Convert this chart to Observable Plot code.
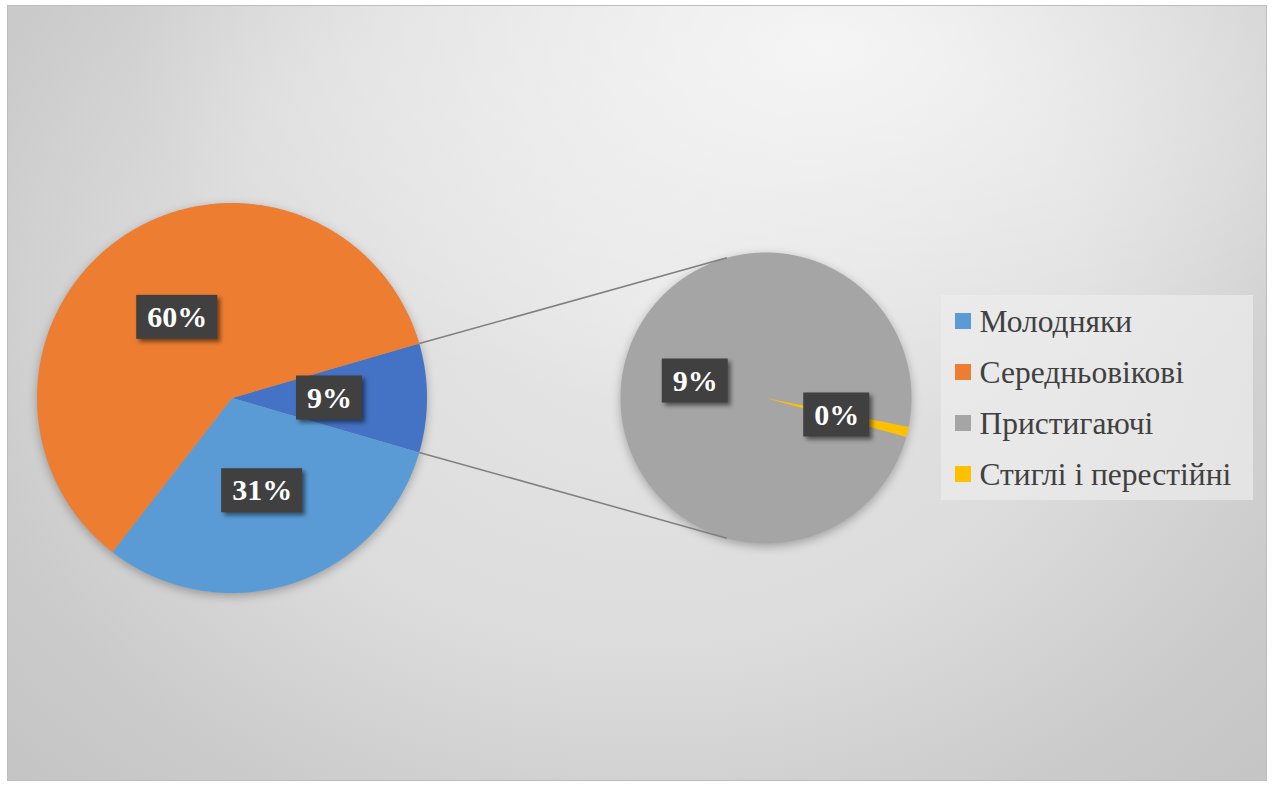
<!DOCTYPE html>
<html>
<head>
<meta charset="utf-8">
<script src="https://cdn.jsdelivr.net/npm/d3@7"></script>
<script src="https://cdn.jsdelivr.net/npm/@observablehq/plot@0.6"></script>
<style>
  html, body { margin: 0; padding: 0; background: #ffffff; }
  #wrap { position: relative; width: 1272px; height: 785px; }
  #bgfill {
    position: absolute; left: 7px; top: 5px; width: 1259px; height: 775px;
    background:
      radial-gradient(ellipse 700px 380px at 820px 40px, rgba(255,255,255,0.7) 0%, rgba(255,255,255,0) 100%),
      radial-gradient(ellipse 880px 700px at 640px 300px, #e6e6e6 0%, #dcdcdc 50%, #cbcbcb 80%, #c4c4c4 100%);
  }
  #chart { position: absolute; left: 0; top: 0; }
  #chart svg { display: block; background: transparent !important; }
  #warm { position: absolute; left: 2px; top: 781px; font: 3px "Liberation Serif", serif; color: transparent; white-space: nowrap; }
  #warm b { font-weight: bold; }
  #warm i { font-style: normal; font-family: monospace; }
</style>
</head>
<body>
<div id="wrap"><div id="bgfill"></div><div id="chart"></div></div>
<div id="warm"></div>
<script>
// ---- data ----
const categories = ["Молодняки", "Середньовікові", "Пристигаючі", "Стиглі і перестійні"];
const values = [31, 60, 8.9, 0.1];
const colors = ["#5B9BD5", "#ED7D31", "#A5A5A5", "#FFC000"];
const otherColor = "#4472C4";
const mainCount = 2; // first two categories in the main pie, the rest in the secondary pie

// ---- layout ----
const W = 1272, H = 785;
const main = {cx: 231.5, cy: 397.5, r: 195};
const second = {cx: 765.5, cy: 397.5, r: 145.5};
const secondStart = 105.5 * Math.PI / 180;
const serifFamily = "Liberation Serif";
const labelSize = 30;
const legend = {x0: 941, x1: 1253, y0: 295, y1: 500, sq: 955, size: 16, tx: 979, first: 321, step: 51};

// warm-up html text in the same font (helps the font get resolved before the photo)
document.getElementById("warm").innerHTML = categories.join(" ") + " <b>0123456789%</b> <i>0%</i>";

const total = d3.sum(values);
const restValue = d3.sum(values.slice(mainCount));

const mainData = [{key: "__other", value: restValue, color: otherColor}]
  .concat(categories.slice(0, mainCount).map((c, i) => ({key: c, value: values[i], color: colors[i]})));
const secondData = categories.slice(mainCount).map((c, i) => ({key: c, value: values[mainCount + i], color: colors[mainCount + i]}));

const mainStart = Math.PI / 2 - Math.PI * restValue / total;
const mainArcs = d3.pie().sort(null).value(d => d.value).startAngle(mainStart).endAngle(mainStart + 2 * Math.PI)(mainData);
const secondArcs = d3.pie().sort(null).value(d => d.value).startAngle(secondStart).endAngle(secondStart + 2 * Math.PI)(secondData);

function arcPoints(key, color, p, a0, a1) {
  const n = Math.max(2, Math.ceil(Math.abs(a1 - a0) / (Math.PI / 360)));
  const pts = [{key, color, x: p.cx, y: p.cy}];
  for (let i = 0; i <= n; i++) {
    const a = a0 + (a1 - a0) * i / n;
    pts.push({key, color, x: p.cx + p.r * Math.sin(a), y: p.cy - p.r * Math.cos(a)});
  }
  pts.push({key, color, x: p.cx, y: p.cy});
  return pts;
}
const mainPts = mainArcs.flatMap(a => arcPoints(a.data.key, a.data.color, main, a.startAngle, a.endAngle));
const secondPts = secondArcs.flatMap(a => arcPoints(a.data.key, a.data.color, second, a.startAngle, a.endAngle));

// labels (box width from glyph widths of the bold serif: digits 0.5em, % 1em)
function labelOf(a, p) {
  const m = (a.startAngle + a.endAngle) / 2;
  const text = Math.round(a.data.value / total * 100) + "%";
  const w = ((text.length - 1) * 0.5 + 1.0) * labelSize + 21;
  return {text, x: p.cx + 0.5 * p.r * Math.sin(m), y: p.cy - 0.5 * p.r * Math.cos(m), w, h: 44};
}
const labels = [...mainArcs.map(a => labelOf(a, main)), ...secondArcs.map(a => labelOf(a, second))];

// connector lines (from the "other" slice to the tangents of the secondary pie)
function tangent(px, py, c, sign) {
  const dx = px - c.cx, dy = py - c.cy, d = Math.hypot(dx, dy);
  const t = Math.atan2(dy, dx) + sign * Math.acos(c.r / d);
  return [c.cx + c.r * Math.cos(t), c.cy + c.r * Math.sin(t)];
}
const otherArc = mainArcs[0];
const connectors = [[otherArc.startAngle, 1], [otherArc.endAngle, -1]].map(([a, s]) => {
  const x1 = main.cx + main.r * Math.sin(a), y1 = main.cy - main.r * Math.cos(a);
  const [x2, y2] = tangent(x1, y1, second, s);
  return {x1, y1, x2, y2};
});

const legendItems = categories.map((c, i) => ({name: c, color: colors[i], y: legend.first + i * legend.step}));

const pieShadow = "drop-shadow(0px 3px 5px rgba(0,0,0,0.28))";

function draw() {
  const svg = Plot.plot({
    width: W, height: H,
    marginLeft: 7, marginTop: 5, marginRight: 6, marginBottom: 5,
    x: {type: "linear", domain: [0, W], range: [0, W], axis: null},
    y: {type: "linear", domain: [0, H], range: [0, H], axis: null},
    color: {type: "identity"},
    style: {background: "transparent", fontFamily: serifFamily},
    marks: [
      Plot.frame({stroke: "#bdbdbd", strokeWidth: 1}),
      Plot.line(mainPts, {x: "x", y: "y", z: "key", fill: "color", stroke: "none", imageFilter: pieShadow}),
      Plot.line(secondPts, {x: "x", y: "y", z: "key", fill: "color", stroke: "none", imageFilter: pieShadow}),
      Plot.link(connectors, {x1: "x1", y1: "y1", x2: "x2", y2: "y2", stroke: "#7f7f7f", strokeWidth: 1.5}),
      Plot.rect(labels, {x1: d => d.x - d.w / 2, x2: d => d.x + d.w / 2, y1: d => d.y - d.h / 2, y2: d => d.y + d.h / 2,
        fill: "#404040", imageFilter: "drop-shadow(3px 3px 2px rgba(0,0,0,0.5))"}),
      Plot.text(labels, {x: "x", y: "y", text: "text", fill: "white", fontSize: labelSize, fontWeight: "bold", fontFamily: serifFamily}),
      Plot.rect([legend], {x1: "x0", x2: "x1", y1: "y0", y2: "y1", fill: "#ececec", fillOpacity: 0.7}),
      Plot.rect(legendItems, {x1: () => legend.sq, x2: () => legend.sq + legend.size, y1: d => d.y - legend.size / 2, y2: d => d.y + legend.size / 2, fill: "color"}),
      Plot.text(legendItems, {x: () => legend.tx, y: "y", text: "name", textAnchor: "start", fill: "#404040", fontSize: 31.5, fontFamily: serifFamily})
    ]
  });
  svg.querySelectorAll("text").forEach(t => t.setAttribute("font-family", serifFamily));
  const host = document.getElementById("chart");
  host.replaceChildren(svg);
  // force layout of the texts
  svg.querySelectorAll("text").forEach(t => { try { t.getComputedTextLength(); } catch (e) {} });
}
draw();
if (document.fonts && document.fonts.ready) document.fonts.ready.then(draw);
</script>
</body>
</html>
